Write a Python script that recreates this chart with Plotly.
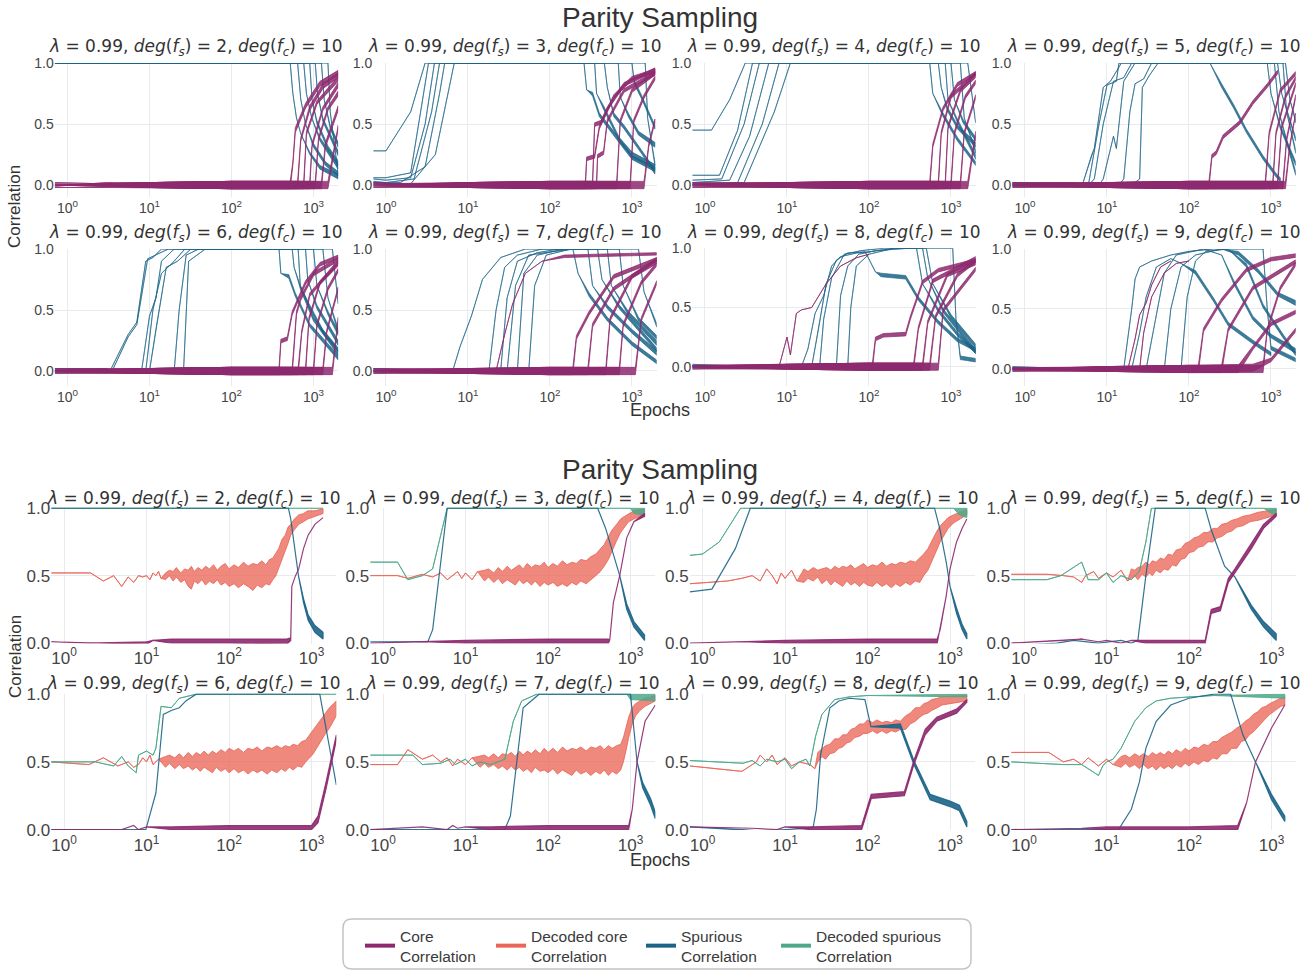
import math
import plotly.graph_objects as go

W, H = 1315, 971

# ---------------------------------------------------------------- colours
CORE_RGB = (141, 41, 110)
DCORE_RGB = (234, 102, 88)
SPUR_RGB = (27, 100, 135)
DSPUR_RGB = (77, 168, 138)

LAMBDA = 0.99
DEG_CORE = 10
DEG_SPUR = [2, 3, 4, 5, 6, 7, 8, 9]

EPOCH_MIN, EPOCH_MAX = 0.7, 2000
EPOCH_TICKS = [1, 10, 100, 1000]
EPOCH_TICK_TEXT = ["10<sup>0</sup>", "10<sup>1</sup>", "10<sup>2</sup>", "10<sup>3</sup>"]
CORR_TICKS = [0.0, 0.5, 1.0]
CORR_TICK_TEXT = ["0.0", "0.5", "1.0"]

# Each run is a list of [epoch, value] or [epoch, low, high] (noise envelope).

# ---------------------------------------------------------------- top grid: many seeds
TOP_SPUR_D2 = [
    [[0.7, 1], [520, 1], [560, 0.75], [620, 0.55], [700, 0.42], [900, 0.25, 0.27], [1200, 0.13, 0.16], [2000, 0.05, 0.09]],
    [[0.7, 1], [640, 1], [700, 0.7], [800, 0.5], [1000, 0.31, 0.34], [1400, 0.16, 0.19], [2000, 0.07, 0.11]],
    [[0.7, 1], [760, 1], [820, 0.75], [950, 0.55], [1200, 0.36, 0.39], [2000, 0.13, 0.17]],
    [[0.7, 1], [900, 1], [960, 0.7], [1100, 0.5, 0.53], [1500, 0.29, 0.32], [2000, 0.16, 0.2]],
    [[0.7, 1], [1050, 1], [1120, 0.75], [1300, 0.52, 0.55], [2000, 0.24, 0.28]],
    [[0.7, 1], [1250, 1], [1350, 0.7], [1600, 0.46, 0.49], [2000, 0.31, 0.35]],
    [[0.7, 1], [1500, 1], [1600, 0.6], [2000, 0.09, 0.13]],
]
TOP_CORE_D2 = [
    [[0.7, 0.02], [3, 0.01], [10, -0.02, 0.02], [100, -0.03, 0.03], [520, -0.03, 0.03], [560, 0.16, 0.19], [600, 0.43, 0.47], [800, 0.63, 0.67], [1200, 0.81, 0.85], [2000, 0.9, 0.94]],
    [[0.7, 0.0], [3, -0.01], [10, -0.02, 0.02], [100, -0.03, 0.03], [640, -0.03, 0.03], [700, 0.36, 0.39], [900, 0.61, 0.65], [1300, 0.79, 0.83], [2000, 0.88, 0.92]],
    [[0.7, -0.02], [3, -0.02], [10, -0.02, 0.02], [100, -0.03, 0.03], [760, -0.03, 0.03], [820, 0.41, 0.44], [1100, 0.66, 0.69], [2000, 0.85, 0.89]],
    [[0.7, 0.01], [4, 0.0], [10, -0.02, 0.02], [100, -0.03, 0.03], [900, -0.03, 0.03], [960, 0.31, 0.34], [1300, 0.61, 0.64], [2000, 0.8, 0.84]],
    [[0.7, -0.01], [3, 0.02], [10, -0.02, 0.02], [100, -0.03, 0.03], [1050, -0.03, 0.03], [1150, 0.36, 0.39], [1500, 0.61, 0.64], [2000, 0.73, 0.77]],
    [[0.7, 0.0], [10, -0.02, 0.02], [100, -0.03, 0.03], [1250, -0.03, 0.03], [1400, 0.31, 0.35], [2000, 0.61, 0.65]],
    [[0.7, 0.0], [10, -0.02, 0.02], [100, -0.03, 0.03], [1500, -0.03, 0.03], [2000, 0.46, 0.49]],
]

TOP_SPUR_D3 = [
    [[0.7, 0.28], [1, 0.28], [2, 0.6], [3.0, 1], [260, 1], [280, 0.78], [330, 0.73, 0.76], [400, 0.56, 0.59], [600, 0.41, 0.44], [1000, 0.21, 0.24], [1900, 0.11, 0.15]],
    [[0.7, 0.06], [1, 0.06], [2, 0.1], [2.8, 0.7], [3.3, 1], [350, 1], [370, 0.75], [450, 0.62, 0.65], [700, 0.36, 0.39], [1000, 0.23, 0.27], [1900, 0.13, 0.17]],
    [[0.7, 0.05], [1, 0.04], [2, 0.06], [3, 0.5], [3.9, 1], [460, 1], [500, 0.8], [600, 0.56, 0.59], [800, 0.46, 0.49], [1300, 0.26, 0.29], [1900, 0.09, 0.13]],
    [[0.7, 0.03], [1, 0.02], [2.2, 0.05], [3.6, 0.6], [4.5, 1], [680, 1], [720, 0.72], [900, 0.56, 0.59], [1200, 0.41, 0.44], [1900, 0.31, 0.35]],
    [[0.7, 0.02], [1.5, 0.02], [3, 0.15], [4.5, 0.75], [5.2, 1], [1000, 1], [1060, 0.83, 0.86], [1300, 0.71, 0.74], [1900, 0.46, 0.49]],
    [[0.7, 0.01], [2, 0.01], [4, 0.25], [6.8, 1], [1450, 1], [1550, 0.55], [1900, 0.16, 0.19]],
]
TOP_CORE_D3 = [
    [[0.7, 0.02], [3, 0.0], [10, -0.02, 0.02], [100, -0.03, 0.03], [270, -0.03, 0.03], [280, 0.2, 0.23], [350, 0.22, 0.25], [400, 0.46, 0.49], [600, 0.71, 0.74], [1000, 0.86, 0.89], [1900, 0.92, 0.95]],
    [[0.7, 0.0], [10, -0.02, 0.02], [100, -0.03, 0.03], [370, -0.03, 0.03], [380, 0.22, 0.25], [450, 0.25, 0.28], [500, 0.51, 0.54], [800, 0.76, 0.79], [1900, 0.9, 0.93]],
    [[0.7, -0.02], [10, -0.02, 0.02], [100, -0.03, 0.03], [330, -0.03, 0.03], [350, 0.48, 0.51], [420, 0.5, 0.53], [500, 0.61, 0.64], [800, 0.81, 0.84], [1900, 0.93, 0.96]],
    [[0.7, 0.01], [10, -0.02, 0.02], [100, -0.03, 0.03], [650, -0.03, 0.03], [720, 0.51, 0.54], [1000, 0.76, 0.79], [1900, 0.9, 0.93]],
    [[0.7, -0.01], [10, -0.02, 0.02], [100, -0.03, 0.03], [950, -0.03, 0.03], [1050, 0.51, 0.54], [1400, 0.71, 0.74], [1900, 0.86, 0.89]],
    [[0.7, 0.0], [10, -0.02, 0.02], [100, -0.03, 0.03], [1400, -0.03, 0.03], [1600, 0.31, 0.34], [1900, 0.51, 0.54]],
]

TOP_SPUR_D4 = [
    [[0.7, 0.45], [1.2, 0.45], [2, 0.7], [3.1, 1], [700, 1], [760, 0.8], [900, 0.61, 0.64], [1200, 0.46, 0.49], [2000, 0.31, 0.35]],
    [[0.7, 0.08], [1.5, 0.08], [2.5, 0.45], [3.8, 1], [850, 1], [920, 0.7], [1200, 0.51, 0.54], [2000, 0.21, 0.25]],
    [[0.7, 0.04], [1.6, 0.05], [3, 0.5], [4.6, 1], [550, 1], [600, 0.75], [800, 0.56, 0.59], [1200, 0.36, 0.39], [2000, 0.16, 0.19]],
    [[0.7, 0.02], [2, 0.04], [3.5, 0.4], [6, 1], [1000, 1], [1100, 0.7], [1400, 0.51, 0.54], [2000, 0.36, 0.39]],
    [[0.7, 0.01], [2.5, 0.02], [5, 0.5], [8, 1], [1300, 1], [1450, 0.55], [2000, 0.26, 0.29]],
    [[0.7, 0.0], [3, 0.02], [7, 0.6], [11, 1], [1600, 1], [2000, 0.51, 0.54]],
]
TOP_CORE_D4 = [
    [[0.7, 0.02], [10, -0.02, 0.02], [100, -0.03, 0.03], [550, -0.03, 0.03], [600, 0.31, 0.34], [800, 0.61, 0.64], [1200, 0.81, 0.84], [2000, 0.9, 0.93]],
    [[0.7, 0.0], [10, -0.02, 0.02], [100, -0.03, 0.03], [700, -0.03, 0.03], [760, 0.41, 0.44], [1000, 0.71, 0.74], [2000, 0.9, 0.93]],
    [[0.7, -0.02], [10, -0.02, 0.02], [100, -0.03, 0.03], [850, -0.03, 0.03], [920, 0.46, 0.49], [1300, 0.76, 0.79], [2000, 0.88, 0.91]],
    [[0.7, 0.01], [10, -0.02, 0.02], [100, -0.03, 0.03], [1000, -0.03, 0.03], [1100, 0.41, 0.44], [1500, 0.71, 0.74], [2000, 0.83, 0.86]],
    [[0.7, -0.01], [10, -0.02, 0.02], [100, -0.03, 0.03], [1300, -0.03, 0.03], [1450, 0.41, 0.44], [2000, 0.71, 0.74]],
    [[0.7, 0.0], [10, -0.02, 0.02], [100, -0.03, 0.03], [1600, -0.03, 0.03], [2000, 0.41, 0.44]],
]

TOP_SPUR_D5 = [
    [[0.7, 0.02], [4, 0.02], [5, 0.0], [6.5, 0.25], [7, 0.3], [9, 0.8], [11, 0.85], [15, 1], [180, 1], [250, 0.8, 0.83], [350, 0.63, 0.66], [500, 0.43, 0.46], [800, 0.21, 0.24], [1170, 0.06, 0.09], [1300, 0.03, 0.06]],
    [[0.7, 0.01], [5, 0.01], [6, 0.02], [8, 0.5], [10, 0.82], [13, 0.85], [14, 1], [900, 1], [1000, 0.75], [1300, 0.46, 0.49], [2000, 0.16, 0.19]],
    [[0.7, 0.0], [6, 0.0], [7, 0.05], [9, 0.5], [12, 0.85], [16, 0.88], [20, 1], [1100, 1], [1250, 0.6], [1600, 0.31, 0.34], [2000, 0.08, 0.11]],
    [[0.7, -0.01], [8, 0.0], [9, 0.05], [12, 0.4], [13, 0.3], [16, 0.85], [22, 1], [1200, 1], [1350, 0.75], [2000, 0.36, 0.39]],
    [[0.7, 0.0], [14, 0.0], [16, 0.05], [19, 0.6], [22, 0.83], [28, 0.87], [35, 1], [1400, 1], [1550, 0.6], [2000, 0.26, 0.29]],
    [[0.7, 0.01], [20, 0.0], [25, 0.05], [27, 0.8], [33, 0.9], [42, 1], [1500, 1], [1700, 0.7], [2000, 0.51, 0.54]],
]
TOP_CORE_D5 = [
    [[0.7, 0.02], [10, -0.02, 0.02], [100, -0.03, 0.03], [175, -0.03, 0.03], [190, 0.22, 0.25], [215, 0.25, 0.28], [260, 0.38, 0.41], [420, 0.5, 0.53], [600, 0.66, 0.69], [900, 0.8, 0.83], [1200, 0.91, 0.94]],
    [[0.7, 0.0], [10, -0.02, 0.02], [100, -0.03, 0.03], [850, -0.03, 0.03], [950, 0.41, 0.44], [1300, 0.76, 0.79], [2000, 0.9, 0.93]],
    [[0.7, -0.02], [10, -0.02, 0.02], [100, -0.03, 0.03], [1050, -0.03, 0.03], [1150, 0.41, 0.44], [1500, 0.71, 0.74], [2000, 0.86, 0.89]],
    [[0.7, 0.01], [10, -0.02, 0.02], [100, -0.03, 0.03], [1200, -0.03, 0.03], [1350, 0.46, 0.49], [2000, 0.81, 0.84]],
    [[0.7, -0.01], [10, -0.02, 0.02], [100, -0.03, 0.03], [1400, -0.03, 0.03], [1550, 0.36, 0.39], [2000, 0.71, 0.74]],
    [[0.7, 0.0], [10, -0.02, 0.02], [100, -0.03, 0.03], [1500, -0.03, 0.03], [1700, 0.31, 0.34], [2000, 0.56, 0.59]],
]

TOP_SPUR_D6 = [
    [[0.7, 0.02], [3, 0.02], [3.3, 0.0], [5.5, 0.3], [7, 0.4], [9, 0.9], [11, 0.93], [14, 1], [380, 1], [400, 0.8], [500, 0.76, 0.79], [600, 0.61, 0.64], [900, 0.36, 0.39], [2000, 0.09, 0.13]],
    [[0.7, 0.0], [3.5, 0.0], [5.5, 0.28], [7, 0.38], [9.5, 0.92], [12, 0.95], [17, 1], [550, 1], [580, 0.85], [700, 0.66, 0.69], [1000, 0.41, 0.44], [2000, 0.13, 0.17]],
    [[0.7, -0.01], [8, 0.0], [10, 0.45], [12, 0.6], [14, 0.9], [20, 1], [650, 1], [690, 0.7], [900, 0.51, 0.54], [1300, 0.31, 0.34], [2000, 0.16, 0.19]],
    [[0.7, 0.01], [9, 0.0], [11, 0.5], [14, 0.8], [20, 0.9], [27, 1], [800, 1], [850, 0.75], [1100, 0.51, 0.54], [2000, 0.21, 0.25]],
    [[0.7, 0.0], [10, 0.0], [12, 0.35], [16, 0.85], [22, 0.9], [32, 1], [1000, 1], [1100, 0.7], [1500, 0.46, 0.49], [2000, 0.29, 0.33]],
    [[0.7, 0.0], [20, 0.0], [23, 0.5], [28, 0.95], [40, 1], [1300, 1], [1500, 0.6], [2000, 0.31, 0.35]],
    [[0.7, 0.0], [26, 0.0], [30, 0.9], [48, 1], [1700, 1], [2000, 0.55]],
]
TOP_CORE_D6 = [
    [[0.7, 0.02], [10, -0.02, 0.02], [100, -0.03, 0.03], [380, -0.03, 0.03], [400, 0.23, 0.26], [480, 0.25, 0.28], [550, 0.46, 0.49], [800, 0.71, 0.74], [1200, 0.86, 0.89], [2000, 0.92, 0.95]],
    [[0.7, 0.0], [10, -0.02, 0.02], [100, -0.03, 0.03], [550, -0.03, 0.03], [620, 0.46, 0.49], [700, 0.58, 0.61], [1000, 0.78, 0.81], [2000, 0.9, 0.93]],
    [[0.7, -0.02], [10, -0.02, 0.02], [100, -0.03, 0.03], [650, -0.03, 0.03], [720, 0.31, 0.34], [900, 0.61, 0.64], [2000, 0.88, 0.91]],
    [[0.7, 0.01], [10, -0.02, 0.02], [100, -0.03, 0.03], [800, -0.03, 0.03], [880, 0.41, 0.44], [1200, 0.71, 0.74], [2000, 0.86, 0.89]],
    [[0.7, -0.01], [10, -0.02, 0.02], [100, -0.03, 0.03], [1000, -0.03, 0.03], [1100, 0.36, 0.39], [1500, 0.66, 0.69], [2000, 0.81, 0.84]],
    [[0.7, 0.0], [10, -0.02, 0.02], [100, -0.03, 0.03], [1300, -0.03, 0.03], [1450, 0.31, 0.34], [2000, 0.66, 0.69]],
    [[0.7, 0.0], [10, -0.02, 0.02], [100, -0.03, 0.03], [1700, -0.03, 0.03], [2000, 0.41, 0.44]],
]

TOP_SPUR_D7 = [
    [[0.7, 0.02], [6.5, 0.0], [8, 0.2], [11, 0.45], [15, 0.75], [25, 0.93], [50, 1], [190, 1], [220, 0.8], [300, 0.61, 0.64], [500, 0.41, 0.44], [1000, 0.21, 0.24], [2000, 0.06, 0.09]],
    [[0.7, 0.0], [18, 0.0], [22, 0.5], [28, 0.85], [40, 0.95], [80, 1], [290, 1], [330, 0.7], [500, 0.51, 0.54], [1000, 0.31, 0.34], [2000, 0.13, 0.17]],
    [[0.7, -0.01], [25, 0.0], [30, 0.6], [40, 0.9], [70, 0.97], [130, 1], [380, 1], [430, 0.75], [700, 0.51, 0.54], [2000, 0.16, 0.19]],
    [[0.7, 0.01], [30, 0.0], [38, 0.7], [55, 0.95], [110, 0.98], [200, 1], [500, 1], [560, 0.7], [900, 0.46, 0.49], [2000, 0.21, 0.25]],
    [[0.7, 0.0], [40, 0.0], [48, 0.8], [70, 0.95], [150, 1], [700, 1], [780, 0.7], [1200, 0.41, 0.44], [2000, 0.26, 0.29]],
    [[0.7, 0.0], [55, 0.0], [65, 0.7], [90, 0.95], [180, 1], [1200, 1], [1400, 0.65], [2000, 0.36, 0.39]],
]
TOP_CORE_D7 = [
    [[0.7, 0.02], [10, -0.02, 0.02], [22, 0.0], [28, 0.3], [35, 0.55], [50, 0.8], [80, 0.9], [150, 0.93, 0.95], [500, 0.94, 0.96], [2000, 0.95, 0.97]],
    [[0.7, 0.0], [10, -0.02, 0.02], [100, -0.03, 0.03], [190, -0.03, 0.03], [210, 0.26, 0.29], [300, 0.46, 0.49], [600, 0.76, 0.79], [2000, 0.9, 0.93]],
    [[0.7, -0.02], [10, -0.02, 0.02], [100, -0.03, 0.03], [290, -0.03, 0.03], [330, 0.36, 0.39], [600, 0.66, 0.69], [2000, 0.9, 0.93]],
    [[0.7, 0.01], [10, -0.02, 0.02], [100, -0.03, 0.03], [480, -0.03, 0.03], [540, 0.41, 0.44], [1000, 0.76, 0.79], [2000, 0.88, 0.91]],
    [[0.7, -0.01], [10, -0.02, 0.02], [100, -0.03, 0.03], [700, -0.03, 0.03], [780, 0.36, 0.39], [1300, 0.71, 0.74], [2000, 0.86, 0.89]],
    [[0.7, 0.0], [10, -0.02, 0.02], [100, -0.03, 0.03], [1100, -0.03, 0.03], [1300, 0.41, 0.44], [2000, 0.71, 0.74]],
]

TOP_SPUR_D8 = [
    [[0.7, 0.02], [5, 0.0], [15, 0.0], [18, 0.15], [22, 0.45], [28, 0.6], [35, 0.85], [45, 0.93], [70, 0.96], [100, 0.97], [200, 1], [1050, 1], [1150, 0.4], [1300, 0.06, 0.09], [2000, 0.04, 0.07]],
    [[0.7, -0.01], [20, 0.0], [24, 0.3], [30, 0.7], [40, 0.9], [55, 0.96], [90, 0.97], [120, 0.8], [140, 0.76, 0.79], [280, 0.74, 0.77], [400, 0.56, 0.59], [700, 0.36, 0.39], [1200, 0.21, 0.24], [2000, 0.13, 0.16]],
    [[0.7, 0.0], [25, 0.0], [28, 0.4], [35, 0.75], [50, 0.95], [80, 0.98], [150, 1], [380, 1], [450, 0.7], [700, 0.46, 0.49], [1200, 0.26, 0.29], [2000, 0.11, 0.14]],
    [[0.7, 0.01], [40, 0.0], [45, 0.6], [55, 0.85], [75, 0.95], [120, 0.98], [300, 1], [450, 1], [520, 0.75], [800, 0.46, 0.49], [2000, 0.11, 0.15]],
    [[0.7, 0.0], [55, 0.0], [60, 0.5], [70, 0.85], [100, 0.95], [200, 1], [500, 1], [600, 0.7], [1000, 0.41, 0.44], [2000, 0.16, 0.19]],
]
TOP_CORE_D8 = [
    [[0.7, 0.0], [8, 0.0], [10, 0.25], [11, 0.1], [13, 0.45], [15, 0.48], [20, 0.5], [30, 0.7], [45, 0.85], [70, 0.92], [100, 0.95]],
    [[0.7, 0.01], [10, -0.02, 0.02], [100, -0.03, 0.03], [110, -0.03, 0.03], [120, 0.22, 0.25], [150, 0.25, 0.28], [280, 0.26, 0.29], [320, 0.4, 0.43], [450, 0.7, 0.73], [700, 0.8, 0.83], [2000, 0.88, 0.91]],
    [[0.7, -0.02], [10, -0.02, 0.02], [100, -0.03, 0.03], [350, -0.03, 0.03], [400, 0.31, 0.34], [600, 0.71, 0.74], [2000, 0.9, 0.93]],
    [[0.7, 0.0], [10, -0.02, 0.02], [100, -0.03, 0.03], [450, -0.03, 0.03], [520, 0.36, 0.39], [900, 0.76, 0.79], [2000, 0.86, 0.89]],
    [[0.7, 0.01], [10, -0.02, 0.02], [100, -0.03, 0.03], [550, -0.03, 0.03], [650, 0.41, 0.44], [1200, 0.76, 0.79], [2000, 0.88, 0.91]],
    [[0.7, -0.01], [10, -0.02, 0.02], [100, -0.03, 0.03], [700, -0.03, 0.03], [800, 0.46, 0.49], [2000, 0.81, 0.84]],
]

TOP_SPUR_D9 = [
    [[0.7, 0.02], [5, 0.0], [16, 0.0], [18, 0.25], [20, 0.5], [22, 0.75], [25, 0.85], [35, 0.9], [60, 0.95], [100, 0.98], [200, 1], [800, 1], [900, 0.5], [1000, 0.16, 0.19], [2000, 0.06, 0.09]],
    [[0.7, 0.0], [20, 0.0], [25, 0.3], [30, 0.6], [40, 0.85], [60, 0.92], [80, 0.88], [120, 0.79, 0.82], [200, 0.56, 0.59], [300, 0.36, 0.39], [600, 0.21, 0.24], [1000, 0.11, 0.14]],
    [[0.7, -0.01], [30, 0.0], [40, 0.45], [50, 0.8], [70, 0.95], [150, 1], [250, 0.95], [350, 0.71, 0.74], [600, 0.41, 0.44], [1000, 0.26, 0.29], [2000, 0.13, 0.17]],
    [[0.7, 0.01], [50, 0.0], [60, 0.5], [80, 0.85], [120, 0.95], [250, 1], [400, 0.95, 0.98], [700, 0.8, 0.83], [1200, 0.61, 0.64], [2000, 0.53, 0.57]],
    [[0.7, 0.0], [80, 0.0], [95, 0.6], [120, 0.9], [160, 0.98], [300, 1], [500, 0.85, 0.88], [800, 0.51, 0.54], [1400, 0.26, 0.29], [2000, 0.11, 0.14]],
]
TOP_CORE_D9 = [
    [[0.7, 0.0], [18, 0.0], [22, 0.25], [25, 0.45], [30, 0.55], [35, 0.7], [45, 0.85], [60, 0.9]],
    [[0.7, 0.01], [25, 0.0], [28, 0.3], [35, 0.6], [50, 0.8], [70, 0.88], [100, 0.9]],
    [[0.7, -0.02], [10, -0.02, 0.02], [100, -0.03, 0.03], [130, -0.03, 0.03], [150, 0.31, 0.34], [250, 0.56, 0.59], [500, 0.81, 0.84], [1000, 0.9, 0.93], [2000, 0.93, 0.96]],
    [[0.7, 0.0], [10, -0.02, 0.02], [100, -0.03, 0.03], [250, -0.03, 0.03], [300, 0.31, 0.34], [600, 0.66, 0.69], [2000, 0.88, 0.91]],
    [[0.7, 0.01], [10, -0.02, 0.02], [100, -0.03, 0.03], [400, -0.03, 0.03], [600, 0.16, 0.19], [1000, 0.36, 0.39], [2000, 0.46, 0.49]],
    [[0.7, -0.01], [10, -0.02, 0.02], [100, -0.03, 0.03], [800, -0.03, 0.03], [900, 0.31, 0.34], [1300, 0.66, 0.69], [2000, 0.86, 0.89]],
    [[0.7, 0.0], [10, -0.02, 0.02], [100, -0.03, 0.03], [600, -0.02, 0.04], [1000, 0.06, 0.09], [2000, 0.31, 0.34]],
]

# ---------------------------------------------------------------- bottom grid: one seed, probes included
BOT_CORE_D2 = [[0.7, 0.01], [2, 0.0], [10, -0.01, 0.01], [12, 0.02], [20, 0.0, 0.03], [100, 0.0, 0.03], [500, -0.01, 0.03], [560, 0.02, 0.04], [577, 0.42], [640, 0.5], [700, 0.55], [800, 0.7], [910, 0.8], [1100, 0.88], [1380, 0.93]]
BOT_DCORE_D2 = [[0.7, 0.52], [2.1, 0.52], [3, 0.46], [4, 0.5], [5, 0.42], [6, 0.49], [7, 0.45], [8, 0.5], [9, 0.49], [10, 0.5], [11, 0.47], [12, 0.52], [13, 0.5], [14, 0.53], [15, 0.48],
                [17, 0.47, 0.52], [19, 0.5, 0.54], [21, 0.46, 0.53], [23, 0.49, 0.56], [26, 0.45, 0.52], [29, 0.47, 0.55], [32, 0.42, 0.54], [35, 0.4, 0.57], [38, 0.46, 0.53], [42, 0.44, 0.56],
                [47, 0.47, 0.54], [52, 0.43, 0.57], [58, 0.46, 0.55], [65, 0.44, 0.58], [72, 0.47, 0.54], [80, 0.43, 0.57], [90, 0.45, 0.59], [100, 0.42, 0.55], [115, 0.44, 0.58], [130, 0.41, 0.56],
                [150, 0.44, 0.6], [170, 0.42, 0.57], [195, 0.39, 0.59], [220, 0.43, 0.58], [250, 0.41, 0.61], [280, 0.44, 0.58], [310, 0.43, 0.62], [340, 0.47, 0.63], [370, 0.5, 0.67], [400, 0.56, 0.7],
                [440, 0.62, 0.77], [480, 0.68, 0.8], [520, 0.74, 0.86], [560, 0.8, 0.88], [620, 0.84, 0.92], [700, 0.88, 0.95], [800, 0.9, 0.96], [900, 0.92, 0.98], [1100, 0.94, 0.98], [1380, 0.96, 0.995]]
BOT_SPUR_D2 = [[0.7, 1], [525, 1], [560, 0.92], [630, 0.71], [695, 0.5], [800, 0.3, 0.33], [910, 0.17, 0.21], [1100, 0.08, 0.13], [1380, 0.03, 0.08]]
BOT_DSPUR_D2 = [[0.7, 1], [1380, 1]]

BOT_CORE_D3 = [[0.7, 0.0], [3, 0.01], [10, 0.0, 0.02], [100, 0.0, 0.03], [540, 0.0, 0.03], [560, 0.02], [620, 0.3], [740, 0.5], [900, 0.78], [1100, 0.9], [1480, 0.94, 0.96]]
BOT_DCORE_D3 = [[0.7, 0.5], [1.5, 0.5], [2, 0.48], [3, 0.51], [4, 0.49], [5, 0.52], [6, 0.47], [7, 0.5], [8, 0.53], [9, 0.48], [10, 0.52], [12, 0.47], [14, 0.53],
                [17, 0.46, 0.54], [19, 0.49, 0.55], [22, 0.45, 0.52], [25, 0.48, 0.56], [28, 0.44, 0.53], [32, 0.47, 0.57], [36, 0.45, 0.54], [40, 0.43, 0.56], [45, 0.47, 0.58], [50, 0.44, 0.55],
                [56, 0.46, 0.59], [63, 0.43, 0.56], [70, 0.46, 0.58], [80, 0.42, 0.57], [90, 0.45, 0.6], [100, 0.43, 0.56], [115, 0.45, 0.59], [130, 0.42, 0.57], [150, 0.44, 0.61], [170, 0.42, 0.58],
                [195, 0.45, 0.6], [220, 0.43, 0.59], [250, 0.46, 0.62], [290, 0.44, 0.61], [330, 0.47, 0.64], [380, 0.5, 0.66], [430, 0.53, 0.7], [480, 0.57, 0.73], [540, 0.62, 0.79], [600, 0.68, 0.84],
                [680, 0.76, 0.88], [760, 0.82, 0.92], [850, 0.86, 0.94], [950, 0.9, 0.96], [1100, 0.92, 0.98], [1300, 0.94, 0.99], [1480, 0.95, 0.99]]
BOT_SPUR_D3 = [[0.7, 0.01], [3.5, 0.01], [4, 0.1], [5, 0.6], [6, 1], [400, 1], [500, 0.85], [740, 0.5], [900, 0.25, 0.29], [1100, 0.12, 0.16], [1480, 0.02, 0.06]]
BOT_DSPUR_D3 = [[0.7, 0.6], [1.5, 0.6], [2, 0.47], [3, 0.5], [4, 0.55], [5, 0.8], [6, 1], [1000, 1], [1100, 0.96, 1.0], [1480, 0.95, 1.0]]

BOT_CORE_D4 = [[0.7, 0.0], [3, 0.01], [10, 0.0, 0.02], [100, 0.0, 0.03], [700, 0.0, 0.03], [760, 0.1], [900, 0.35], [1000, 0.55], [1200, 0.75], [1400, 0.85], [1600, 0.92]]
BOT_DCORE_D4 = [[0.7, 0.44], [2, 0.46], [3, 0.48], [4, 0.5], [5, 0.46], [6, 0.55], [7, 0.5], [8, 0.44], [9, 0.52], [10, 0.48], [12, 0.54], [14, 0.46],
                [17, 0.45, 0.55], [19, 0.48, 0.53], [22, 0.46, 0.56], [25, 0.49, 0.54], [28, 0.44, 0.55], [32, 0.47, 0.56], [36, 0.43, 0.54], [40, 0.46, 0.57], [45, 0.44, 0.55], [50, 0.42, 0.57],
                [56, 0.46, 0.56], [63, 0.43, 0.58], [70, 0.45, 0.55], [80, 0.42, 0.57], [90, 0.45, 0.59], [100, 0.43, 0.56], [115, 0.42, 0.58], [130, 0.45, 0.57], [150, 0.42, 0.6], [170, 0.44, 0.57],
                [195, 0.41, 0.59], [220, 0.44, 0.58], [250, 0.42, 0.6], [290, 0.45, 0.59], [330, 0.43, 0.61], [380, 0.46, 0.6], [430, 0.45, 0.63], [480, 0.5, 0.66], [540, 0.54, 0.7], [600, 0.6, 0.76],
                [680, 0.68, 0.82], [760, 0.75, 0.87], [850, 0.8, 0.9], [950, 0.85, 0.93], [1100, 0.89, 0.95], [1300, 0.92, 0.97], [1600, 0.95, 0.99]]
BOT_SPUR_D4 = [[0.7, 0.38], [1.3, 0.4], [2.5, 0.7], [3.8, 1], [650, 1], [750, 0.85], [900, 0.6], [1000, 0.42], [1200, 0.22, 0.26], [1400, 0.1, 0.14], [1600, 0.03, 0.07]]
BOT_DSPUR_D4 = [[0.7, 0.65], [1.0, 0.66], [1.6, 0.75], [2.9, 1], [1100, 1], [1300, 0.95, 1.0], [1600, 0.93, 1.0]]

BOT_CORE_D5 = [[0.7, 0.0], [3, 0.02], [5, 0.03], [8, 0.01], [10, 0.02], [15, 0.0], [20, 0.02], [30, 0.0, 0.02], [100, 0.0, 0.02], [157, 0.0, 0.02], [186, 0.22, 0.25], [240, 0.24, 0.27], [300, 0.45, 0.48], [360, 0.52, 0.55], [570, 0.7, 0.74], [800, 0.85, 0.88], [1140, 0.94, 0.96]]
BOT_DCORE_D5 = [[0.7, 0.51], [1.9, 0.51], [3, 0.5], [4, 0.49], [5, 0.45], [5.6, 0.5], [7, 0.53], [8, 0.48], [10, 0.52], [12, 0.49], [15, 0.54], [18, 0.46],
                [20, 0.48, 0.55], [22, 0.5, 0.54], [24, 0.47, 0.56], [27, 0.51, 0.57], [30, 0.49, 0.6], [33, 0.52, 0.58], [36, 0.5, 0.61], [40, 0.54, 0.6], [45, 0.52, 0.63], [50, 0.55, 0.62],
                [56, 0.54, 0.66], [63, 0.58, 0.65], [70, 0.57, 0.69], [80, 0.62, 0.7], [90, 0.63, 0.74], [100, 0.67, 0.75], [115, 0.68, 0.78], [130, 0.71, 0.79], [150, 0.72, 0.82], [170, 0.75, 0.82],
                [195, 0.75, 0.85], [220, 0.78, 0.85], [250, 0.79, 0.88], [290, 0.82, 0.89], [330, 0.83, 0.91], [380, 0.86, 0.92], [450, 0.87, 0.94], [550, 0.9, 0.95], [690, 0.91, 0.97], [850, 0.93, 0.98],
                [1000, 0.94, 0.985], [1140, 0.95, 0.99]]
BOT_SPUR_D5 = [[0.7, -0.02], [2.5, 0.0], [4, 0.02], [8, 0.0], [15, 0.02], [20, 0.0], [24, 0.02], [30, 0.5], [39, 1], [157, 1], [186, 0.84], [270, 0.57], [360, 0.49], [570, 0.25, 0.28], [800, 0.12, 0.16], [1140, 0.02, 0.07]]
BOT_DSPUR_D5 = [[0.7, 0.47], [1.9, 0.47], [2.8, 0.5], [5, 0.6], [6, 0.47], [8, 0.47], [10, 0.52], [12, 0.45], [15, 0.5], [20, 0.47], [25, 0.53], [30, 0.75], [35, 1], [800, 1], [1000, 0.96, 1.0], [1140, 0.95, 1.0]]

BOT_CORE_D6 = [[0.7, 0.0], [5, 0.0], [7, 0.03], [8, 0.0], [10, 0.02], [20, 0.0, 0.02], [100, 0.0, 0.03], [1000, 0.0, 0.03], [1200, 0.05, 0.1], [1500, 0.3, 0.35], [2000, 0.66, 0.7]]
BOT_DCORE_D6 = [[0.7, 0.5], [2, 0.48], [3, 0.53], [4.5, 0.47], [6, 0.5], [7, 0.46], [8, 0.48], [9, 0.53], [10, 0.5], [11, 0.55], [12, 0.48], [14, 0.52],
                [17, 0.46, 0.54], [19, 0.49, 0.55], [22, 0.45, 0.53], [25, 0.48, 0.56], [28, 0.45, 0.53], [32, 0.47, 0.57], [36, 0.44, 0.54], [40, 0.46, 0.57], [45, 0.43, 0.55], [50, 0.46, 0.58],
                [56, 0.44, 0.55], [63, 0.42, 0.58], [70, 0.46, 0.56], [80, 0.43, 0.59], [90, 0.45, 0.57], [100, 0.42, 0.6], [115, 0.45, 0.58], [130, 0.42, 0.6], [150, 0.44, 0.57], [170, 0.41, 0.6],
                [195, 0.44, 0.59], [220, 0.42, 0.61], [250, 0.44, 0.58], [290, 0.41, 0.61], [330, 0.44, 0.6], [380, 0.42, 0.62], [430, 0.45, 0.6], [480, 0.43, 0.62], [540, 0.46, 0.61], [600, 0.44, 0.63],
                [680, 0.47, 0.62], [760, 0.46, 0.65], [850, 0.5, 0.66], [950, 0.53, 0.7], [1050, 0.56, 0.74], [1150, 0.6, 0.77], [1300, 0.65, 0.82], [1450, 0.7, 0.86], [1650, 0.75, 0.9], [1850, 0.8, 0.93],
                [2000, 0.84, 0.95]]
BOT_SPUR_D6 = [[0.7, 0.0], [9.8, 0.0], [13, 0.27], [16, 0.85], [20, 0.88], [25, 0.9], [30, 0.95], [40, 1], [1260, 1], [1500, 0.75], [2000, 0.33]]
BOT_DSPUR_D6 = [[0.7, 0.5], [2.4, 0.5], [4, 0.47], [5, 0.54], [6, 0.47], [7.5, 0.42], [8, 0.55], [10, 0.58], [12, 0.55], [13, 0.6], [15, 0.91], [20, 0.9], [25, 0.97], [40, 1], [2000, 1]]

BOT_CORE_D7 = [[0.7, 0.0], [3, 0.02], [6, 0.0], [7, 0.03], [8, 0.01], [10, 0.02], [20, 0.0, 0.02], [100, 0.0, 0.03], [950, 0.0, 0.03], [1050, 0.15], [1200, 0.5], [1500, 0.8], [2000, 0.92]]
BOT_DCORE_D7 = [[0.7, 0.48], [1.5, 0.48], [2, 0.59], [3, 0.52], [4, 0.55], [5, 0.5], [6, 0.53], [7, 0.47], [8, 0.52], [10, 0.48], [12, 0.53],
                [15, 0.46, 0.54], [17, 0.49, 0.55], [19, 0.46, 0.53], [22, 0.48, 0.56], [25, 0.45, 0.53], [28, 0.47, 0.56], [32, 0.44, 0.55], [36, 0.47, 0.57], [40, 0.44, 0.54], [45, 0.46, 0.58],
                [50, 0.43, 0.55], [56, 0.45, 0.58], [63, 0.42, 0.56], [70, 0.46, 0.59], [80, 0.43, 0.56], [90, 0.44, 0.6], [100, 0.42, 0.57], [115, 0.45, 0.6], [130, 0.41, 0.57], [150, 0.44, 0.61],
                [170, 0.42, 0.58], [195, 0.4, 0.6], [220, 0.44, 0.59], [250, 0.41, 0.61], [290, 0.43, 0.58], [330, 0.4, 0.61], [380, 0.43, 0.6], [430, 0.41, 0.62], [480, 0.44, 0.59], [540, 0.4, 0.62],
                [600, 0.43, 0.6], [680, 0.41, 0.62], [760, 0.44, 0.63], [820, 0.5, 0.68], [880, 0.58, 0.75], [950, 0.68, 0.83], [1050, 0.78, 0.9], [1150, 0.84, 0.93], [1300, 0.88, 0.95], [1500, 0.91, 0.97],
                [1750, 0.93, 0.98], [2000, 0.95, 0.99]]
BOT_SPUR_D7 = [[0.7, 0.0], [30, 0.0], [35, 0.1], [40, 0.4], [50, 0.9], [78, 1], [1000, 1], [1200, 0.5], [1400, 0.31, 0.35], [1750, 0.18, 0.23], [2000, 0.08, 0.13]]
BOT_DSPUR_D7 = [[0.7, 0.55], [2.3, 0.55], [3, 0.48], [5, 0.49], [6.5, 0.52], [7.5, 0.48], [10, 0.52], [12, 0.47], [15, 0.5], [20, 0.48], [25, 0.5], [30, 0.52], [38, 0.8], [48, 0.95], [73, 1], [900, 1], [1000, 0.96, 1.0], [2000, 0.95, 1.0]]

BOT_CORE_D8 = [[0.7, 0.02], [4, 0.01], [8, 0.0], [10, 0.02], [20, 0.0, 0.02], [85, 0.0, 0.03], [111, 0.23, 0.26], [280, 0.25, 0.28], [365, 0.48, 0.51], [500, 0.7, 0.74], [690, 0.8, 0.83], [1200, 0.86, 0.89], [1600, 0.94, 0.96]]
BOT_DCORE_D8 = [[0.7, 0.47], [3, 0.43], [4.5, 0.5], [5, 0.55], [6, 0.5], [7, 0.55], [8, 0.48], [10, 0.53], [12, 0.47], [15, 0.5], [20, 0.48], [23, 0.45],
                [25, 0.5, 0.57], [28, 0.54, 0.6], [31, 0.52, 0.62], [35, 0.56, 0.63], [40, 0.57, 0.67], [45, 0.6, 0.67], [50, 0.61, 0.7], [56, 0.64, 0.7], [63, 0.65, 0.74], [70, 0.68, 0.75],
                [80, 0.69, 0.78], [90, 0.71, 0.78], [100, 0.71, 0.81], [115, 0.73, 0.79], [130, 0.71, 0.81], [150, 0.73, 0.79], [170, 0.71, 0.8], [195, 0.73, 0.79], [220, 0.72, 0.81], [250, 0.74, 0.8],
                [290, 0.74, 0.84], [330, 0.78, 0.86], [380, 0.8, 0.9], [430, 0.83, 0.9], [480, 0.85, 0.93], [540, 0.86, 0.94], [600, 0.88, 0.96], [700, 0.9, 0.97], [800, 0.92, 0.98], [1000, 0.93, 0.985],
                [1300, 0.94, 0.99], [1600, 0.95, 0.99]]
BOT_SPUR_D8 = [[0.7, 0.02], [3, 0.0], [5, -0.01], [10, 0.0], [20, 0.01], [22, 0.02], [24, 0.15], [27, 0.55], [35, 0.9], [45, 0.95], [60, 0.97], [93, 0.96], [110, 0.76], [250, 0.75, 0.78], [365, 0.48, 0.51], [575, 0.22, 0.26], [1000, 0.17, 0.21], [1300, 0.14, 0.18], [1600, 0.02, 0.06]]
BOT_DSPUR_D8 = [[0.7, 0.51], [3.1, 0.49], [4, 0.51], [5, 0.47], [6, 0.52], [8, 0.5], [10, 0.52], [12, 0.45], [15, 0.5], [18, 0.52], [20, 0.47], [22, 0.6], [23.5, 0.69], [28, 0.85], [40, 0.96], [60, 0.98], [100, 0.99], [1600, 0.98, 1.0]]

BOT_CORE_D9 = [[0.7, 0.0], [5, 0.01], [10, 0.0, 0.02], [100, 0.0, 0.02], [390, 0.0, 0.03], [500, 0.2], [640, 0.5], [1000, 0.75], [1450, 0.92]]
BOT_DCORE_D9 = [[0.7, 0.57], [2, 0.57], [3, 0.5], [4, 0.52], [5, 0.48], [6, 0.53], [8, 0.47], [10, 0.52], [12, 0.48],
                [15, 0.46, 0.54], [17, 0.49, 0.55], [19, 0.46, 0.53], [22, 0.48, 0.56], [25, 0.45, 0.54], [28, 0.48, 0.56], [32, 0.45, 0.54], [36, 0.47, 0.57], [40, 0.44, 0.55], [45, 0.47, 0.57],
                [50, 0.45, 0.55], [56, 0.47, 0.58], [63, 0.45, 0.56], [70, 0.48, 0.59], [80, 0.46, 0.57], [90, 0.49, 0.6], [100, 0.47, 0.58], [115, 0.5, 0.61], [130, 0.48, 0.6], [150, 0.51, 0.63],
                [170, 0.5, 0.62], [195, 0.53, 0.65], [220, 0.52, 0.65], [250, 0.56, 0.68], [290, 0.56, 0.7], [330, 0.6, 0.72], [380, 0.6, 0.75], [430, 0.65, 0.77], [480, 0.66, 0.8], [540, 0.7, 0.82],
                [600, 0.72, 0.85], [680, 0.76, 0.87], [760, 0.79, 0.9], [850, 0.82, 0.91], [950, 0.85, 0.93], [1100, 0.88, 0.95], [1300, 0.91, 0.97], [1450, 0.92, 0.98]]
BOT_SPUR_D9 = [[0.7, 0.0], [14, 0.0], [20, 0.15], [25, 0.35], [30, 0.6], [40, 0.8], [60, 0.92], [100, 0.97], [200, 1], [320, 1], [450, 0.7], [640, 0.5], [1000, 0.22, 0.26], [1450, 0.06, 0.1]]
BOT_DSPUR_D9 = [[0.7, 0.5], [3, 0.48], [5, 0.48], [6, 0.45], [8, 0.4], [9, 0.47], [10, 0.5], [12, 0.52], [15, 0.6], [22, 0.8], [30, 0.9], [40, 0.95], [60, 0.97], [100, 0.98], [200, 0.99], [1450, 0.97, 1.0]]

TOP_SPUR = [TOP_SPUR_D2, TOP_SPUR_D3, TOP_SPUR_D4, TOP_SPUR_D5, TOP_SPUR_D6, TOP_SPUR_D7, TOP_SPUR_D8, TOP_SPUR_D9]
TOP_CORE = [TOP_CORE_D2, TOP_CORE_D3, TOP_CORE_D4, TOP_CORE_D5, TOP_CORE_D6, TOP_CORE_D7, TOP_CORE_D8, TOP_CORE_D9]
BOT_CORE = [BOT_CORE_D2, BOT_CORE_D3, BOT_CORE_D4, BOT_CORE_D5, BOT_CORE_D6, BOT_CORE_D7, BOT_CORE_D8, BOT_CORE_D9]
BOT_DCORE = [BOT_DCORE_D2, BOT_DCORE_D3, BOT_DCORE_D4, BOT_DCORE_D5, BOT_DCORE_D6, BOT_DCORE_D7, BOT_DCORE_D8, BOT_DCORE_D9]
BOT_SPUR = [BOT_SPUR_D2, BOT_SPUR_D3, BOT_SPUR_D4, BOT_SPUR_D5, BOT_SPUR_D6, BOT_SPUR_D7, BOT_SPUR_D8, BOT_SPUR_D9]
BOT_DSPUR = [BOT_DSPUR_D2, BOT_DSPUR_D3, BOT_DSPUR_D4, BOT_DSPUR_D5, BOT_DSPUR_D6, BOT_DSPUR_D7, BOT_DSPUR_D8, BOT_DSPUR_D9]

LEGEND_NAMES = ["Core<br>Correlation", "Decoded core<br>Correlation", "Spurious<br>Correlation", "Decoded spurious<br>Correlation"]

# ---------------------------------------------------------------- geometry (pixels)
TOP_X0 = [67.5, 386.0, 705.0, 1025.0]      # where epoch 1 sits in each column
BOT_X0 = [64.0, 383.0, 702.5, 1024.0]
TOP_DEC, BOT_DEC = 82.0, 82.5             # pixels per decade

# (top px, bottom px, y-range) per panel
TOP_ROWS = [
    [(63, 197, (-0.098, 1.0))] * 4,
    [(249, 386, (-0.123, 1.0)), (249, 386, (-0.123, 1.0)),
     (248.3, 386, (-0.163, 1.0)), (249, 386, (-0.142, 1.0))],
]
BOT_ROWS = [
    [(507.5, 643.5, (-0.003, 1.005))] * 4,
    [(693.5, 830, (-0.003, 1.005))] * 4,
]
TOP_TITLE_Y = [47, 234]
BOT_TITLE_Y = [499, 684]
TOP_STANDOFF = [1, 1]
BOT_STANDOFF = [2, 3]


def rgba(rgb, a):
    return "rgba(%d,%d,%d,%.3f)" % (rgb[0], rgb[1], rgb[2], a)


def px_x(px):
    return px / W


def px_y(py):
    return 1 - py / H


def run_trace(pts, rgb, axis_id, width, a_line, a_fill):
    xs = [p[0] for p in pts]
    lo = [p[1] for p in pts]
    hi = [p[-1] for p in pts]
    return go.Scatter(
        x=xs + xs[::-1], y=hi + lo[::-1], mode="lines", fill="toself",
        fillcolor=rgba(rgb, a_fill), line=dict(color=rgba(rgb, a_line), width=width),
        xaxis="x%d" % axis_id, yaxis="y%d" % axis_id, hoverinfo="skip", showlegend=False,
    )


def panel_title(deg):
    return ("<i>λ</i> = %.2f, <i>deg</i>(<i>f</i><sub><i>s</i></sub>) = %d, "
            "<i>deg</i>(<i>f</i><sub><i>c</i></sub>) = %d" % (LAMBDA, deg, DEG_CORE))


fig = go.Figure()
layout = {}
annotations = []
TICK_COL = "#444"
GRID_COL = "#E7EBF0"
x_range = [math.log10(EPOCH_MIN), math.log10(EPOCH_MAX)]

panels = []
for r in range(2):
    for c in range(4):
        panels.append(("top", r, c))
for r in range(2):
    for c in range(4):
        panels.append(("bot", r, c))

for idx, (fig_part, r, c) in enumerate(panels):
    axis_id = idx + 1
    k = r * 4 + c
    if fig_part == "top":
        x0, dec = TOP_X0[c], TOP_DEC
        ytop, ybot, yr = TOP_ROWS[r][c]
        tick_size = 14
        title_y = TOP_TITLE_Y[r]
        standoff = TOP_STANDOFF[r]
    else:
        x0, dec = BOT_X0[c], BOT_DEC
        ytop, ybot, yr = BOT_ROWS[r][c]
        tick_size = 17
        title_y = BOT_TITLE_Y[r]
        standoff = BOT_STANDOFF[r]
    left = x0 + x_range[0] * dec
    right = x0 + x_range[1] * dec
    suffix = "" if axis_id == 1 else str(axis_id)
    layout["xaxis" + suffix] = dict(
        type="log", range=x_range, domain=[px_x(left), px_x(right)],
        anchor="y" + suffix, tickvals=EPOCH_TICKS, ticktext=EPOCH_TICK_TEXT,
        showgrid=True, gridcolor=GRID_COL, gridwidth=1, zeroline=False, showline=False,
        ticks="", ticklabelstandoff=standoff, automargin=False,
        tickfont=dict(family="Liberation Sans, Arial", size=tick_size, color=TICK_COL),
    )
    layout["yaxis" + suffix] = dict(
        range=list(yr), domain=[px_y(ybot), px_y(ytop)], anchor="x" + suffix,
        tickvals=CORR_TICKS, ticktext=CORR_TICK_TEXT,
        showgrid=True, gridcolor=GRID_COL, gridwidth=1, zeroline=False, showline=False,
        ticks="", automargin=False,
        tickfont=dict(family="Liberation Sans, Arial", size=tick_size, color=TICK_COL),
    )
    annotations.append(dict(
        text=panel_title(DEG_SPUR[k]), x=px_x((left + right) / 2), y=px_y(title_y),
        xref="paper", yref="paper", xanchor="center", yanchor="middle", showarrow=False,
        font=dict(family="DejaVu Sans", size=17, color="#333"),
    ))

    if fig_part == "top":
        for run in TOP_SPUR[k]:
            fig.add_trace(run_trace(run, SPUR_RGB, axis_id, 1.0, 0.62, 0.85))
        for run in TOP_CORE[k]:
            fig.add_trace(run_trace(run, CORE_RGB, axis_id, 1.0, 0.72, 0.85))
    else:
        fig.add_trace(run_trace(BOT_DCORE[k], DCORE_RGB, axis_id, 1.0, 0.85, 0.78))
        fig.add_trace(run_trace(BOT_DSPUR[k], DSPUR_RGB, axis_id, 1.0, 0.85, 0.85))
        fig.add_trace(run_trace(BOT_SPUR[k], SPUR_RGB, axis_id, 1.2, 0.9, 0.9))
        fig.add_trace(run_trace(BOT_CORE[k], CORE_RGB, axis_id, 1.2, 0.9, 0.9))

# figure headings and shared axis labels
for ty in (18, 469):
    annotations.append(dict(text="Parity Sampling", x=px_x(660), y=px_y(ty), xref="paper", yref="paper",
                            xanchor="center", yanchor="middle", showarrow=False,
                            font=dict(family="Liberation Sans, Arial", size=28, color="#333")))
for ty in (410, 860):
    annotations.append(dict(text="Epochs", x=px_x(660), y=px_y(ty), xref="paper", yref="paper",
                            xanchor="center", yanchor="middle", showarrow=False,
                            font=dict(family="Liberation Sans, Arial", size=18, color="#333")))
for ty in (207, 657):
    annotations.append(dict(text="Correlation", x=px_x(15), y=px_y(ty), xref="paper", yref="paper",
                            xanchor="center", yanchor="middle", textangle=-90, showarrow=False,
                            font=dict(family="Liberation Sans, Arial", size=17, color="#333")))

# legend: one entry per legend box so each can sit at its own spot
legend_rgbs = [CORE_RGB, DCORE_RGB, SPUR_RGB, DSPUR_RGB]
legend_px = [360, 491, 641, 776]
for i, (name, rgb) in enumerate(zip(LEGEND_NAMES, legend_rgbs)):
    lname = "legend" if i == 0 else "legend%d" % (i + 1)
    fig.add_trace(go.Scatter(x=[None], y=[None], mode="lines", name=name,
                             line=dict(color=rgba(rgb, 1), width=4), legend=lname,
                             xaxis="x", yaxis="y", showlegend=True))
    layout[lname] = dict(x=px_x(legend_px[i]), y=px_y(946), xanchor="left", yanchor="middle",
                         bgcolor="rgba(0,0,0,0)", borderwidth=0, orientation="v",
                         font=dict(family="Liberation Sans, Arial", size=15.5, color="#3a3a3a"),
                         valign="middle")

# rounded frame round the legend
bx0, by0, bx1, by1, rad = 343, 919, 971, 969, 9


def P(xp, yp):
    return "%.5f,%.5f" % (px_x(xp), px_y(yp))


frame = ("M " + P(bx0 + rad, by0) + " L " + P(bx1 - rad, by0) + " Q " + P(bx1, by0) + " " + P(bx1, by0 + rad) +
         " L " + P(bx1, by1 - rad) + " Q " + P(bx1, by1) + " " + P(bx1 - rad, by1) +
         " L " + P(bx0 + rad, by1) + " Q " + P(bx0, by1) + " " + P(bx0, by1 - rad) +
         " L " + P(bx0, by0 + rad) + " Q " + P(bx0, by0) + " " + P(bx0 + rad, by0) + " Z")

fig.update_layout(
    width=W, height=H, margin=dict(l=0, r=0, t=0, b=0, autoexpand=False),
    paper_bgcolor="white", plot_bgcolor="white",
    annotations=annotations,
    shapes=[dict(type="path", path=frame, xref="paper", yref="paper",
                 line=dict(color="#c4c4c4", width=1.5), fillcolor="rgba(0,0,0,0)")],
    **layout,
)

fig.write_html("out.html")
